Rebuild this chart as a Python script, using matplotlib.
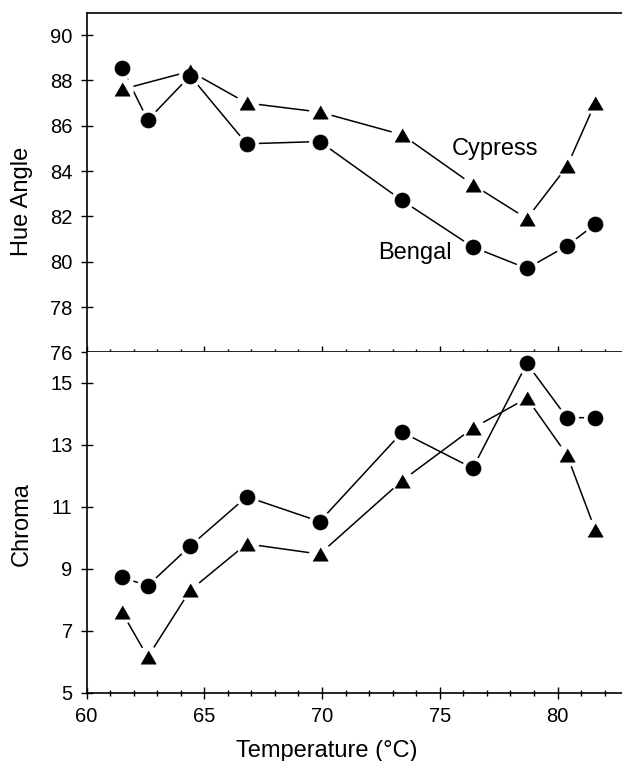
import numpy as np
import matplotlib
matplotlib.use("Agg")
import matplotlib.pyplot as plt
from matplotlib.ticker import MultipleLocator

# data
temp = [61.5, 62.6, 64.4, 66.8, 69.9, 73.4, 76.4, 78.7, 80.4, 81.6]
bengal_hue = [88.55, 86.25, 88.2, 85.2, 85.3, 82.7, 80.65, 79.7, 80.7, 81.65]
cypress_temp_hue = [61.5, 64.4, 66.8, 69.9, 73.4, 76.4, 78.7, 80.4, 81.6]
cypress_hue = [87.6, 88.4, 87.0, 86.6, 85.6, 83.4, 81.9, 84.2, 87.0]
bengal_chroma = [8.72, 8.45, 9.73, 11.32, 10.52, 13.4, 12.24, 15.62, 13.87, 13.87]
cypress_chroma = [7.6, 6.15, 8.3, 9.8, 9.47, 11.84, 13.53, 14.5, 12.67, 10.25]

hue_ticks = [76, 78, 80, 82, 84, 86, 88, 90]
chroma_ticks = [5, 7, 9, 11, 13, 15]
temp_ticks = [60, 65, 70, 75, 80]

plt.rcParams['font.family'] = ['Liberation Sans', 'DejaVu Sans']

# equilateral triangle marker
tri = [(-1, -0.866), (1, -0.866), (0, 0.866)]

fig = plt.figure(figsize=(6.22, 7.61), dpi=100)
ax1 = fig.add_axes([0.1391, 0.537, 0.861, 0.4459])
ax2 = fig.add_axes([0.1391, 0.0898, 0.861, 0.4473])


def draw_series(ax, x, y, marker, ms):
    ax.plot(x, y, color='black', lw=1.1, zorder=1, clip_on=False)
    # white halo so lines stop short of the markers
    ax.plot(x, y, ls='none', marker='o', ms=16.5, mfc='white', mec='none', zorder=2, clip_on=False)
    ax.plot(x, y, ls='none', marker=marker, ms=ms, mfc='black', mec='black', mew=0.5, zorder=3, clip_on=False)


# Hue angle panel
draw_series(ax1, temp, bengal_hue, 'o', 10.8)
draw_series(ax1, cypress_temp_hue, cypress_hue, tri, 11)
ax1.set_xlim(60, 82.74)
ax1.set_ylim(76, 90.97)
ax1.set_yticks(hue_ticks)
ax1.xaxis.set_major_locator(MultipleLocator(5))
ax1.xaxis.set_minor_locator(MultipleLocator(1))
ax1.tick_params(axis='x', labelbottom=False)
ax1.spines['right'].set_visible(False)
ax1.text(75.5, 84.69, 'Cypress', fontsize=17, ha='left', va='baseline')
ax1.text(72.38, 80.13, 'Bengal', fontsize=17, ha='left', va='baseline')

# Chroma panel
draw_series(ax2, temp, bengal_chroma, 'o', 10.8)
draw_series(ax2, temp, cypress_chroma, tri, 11)
ax2.set_xlim(60, 82.74)
ax2.set_ylim(5, 15.98)
ax2.set_yticks(chroma_ticks)
ax2.set_xticks(temp_ticks)
ax2.xaxis.set_minor_locator(MultipleLocator(1))
ax2.spines['right'].set_visible(False)
ax2.spines['top'].set_visible(False)

for ax in (ax1, ax2):
    for s in ax.spines.values():
        s.set_linewidth(1.2)
    ax.tick_params(which='major', direction='inout', length=8, width=1.0, labelsize=14.5, pad=6.0)
    ax.tick_params(which='minor', direction='inout', length=5, width=1.0)
    ax.tick_params(axis='y', which='minor', left=False)

ax2.set_xlabel('Temperature (°C)', fontsize=17)
ax2.xaxis.set_label_coords(0.449, -0.138)

fig.text(0.0346, 0.736, 'Hue Angle', fontsize=17, rotation=90, ha='center', va='center')
fig.text(0.0354, 0.3114, 'Chroma', fontsize=17, rotation=90, ha='center', va='center')

fig.savefig('out.png', dpi=100)
